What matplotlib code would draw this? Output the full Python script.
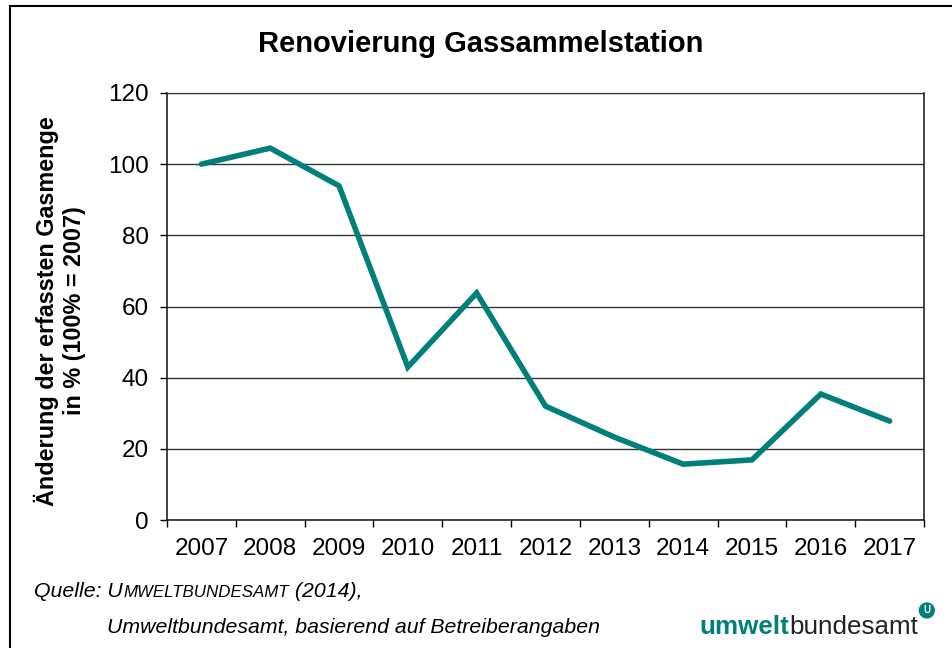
import numpy as np
import matplotlib.pyplot as plt

plt.rcParams['font.family'] = ['Liberation Sans', 'DejaVu Sans']

# data
years = ['2007', '2008', '2009', '2010', '2011', '2012', '2013', '2014', '2015', '2016', '2017']
change_pct = [100, 104.5, 93.9, 43, 63.8, 32, 23.3, 15.7, 16.9, 35.4, 27.8]
y_ticks = [0, 20, 40, 60, 80, 100, 120]

teal = '#007f7b'

fig = plt.figure(figsize=(9.53, 6.48), dpi=100)
ax = fig.add_axes([0.1752, 0.1975, 0.7944, 0.659])

x = np.arange(len(years))
ax.plot(x, change_pct, color=teal, lw=4, solid_joinstyle='miter', solid_capstyle='round')

ax.set_xlim(-0.5, len(years) - 0.5)
ax.set_ylim(0, 120)
ax.set_yticks(y_ticks)
ax.set_xticks(x)
ax.set_xticklabels(years)
ax.set_xticks(np.arange(-0.5, len(years)), minor=True)
ax.tick_params(axis='x', which='major', length=0, pad=13, labelsize=17.5)
ax.tick_params(axis='x', which='minor', length=5, width=1, direction='out')
ax.tick_params(axis='y', length=5, width=1, direction='out', pad=8, labelsize=17.5)

ax.grid(axis='y', color='#333333', lw=1)
ax.set_axisbelow(True)
for s in ['left', 'bottom', 'right']:
    ax.spines[s].set_color('#222222')
    ax.spines[s].set_linewidth(1.2)
ax.spines['top'].set_color('#333333')

ax.set_ylabel('Änderung der erfassten Gasmenge\nin % (100% = 2007)',
              fontsize=16.8, fontweight='bold', labelpad=16, linespacing=1.2)
ax.yaxis.label.set_y(0.49)

fig.text(0.504, 0.932, 'Renovierung Gassammelstation', fontsize=21,
         fontweight='bold', ha='center', va='center')

# outer frame (left and top edges visible)
fig.add_artist(plt.Line2D([0.0105, 0.0105], [0, 0.991], color='black', lw=1.5, transform=fig.transFigure))
fig.add_artist(plt.Line2D([0.0105, 1.0], [0.991, 0.991], color='black', lw=1.5, transform=fig.transFigure))

# source note
y1 = 0.078
t1 = fig.text(0.036, y1, 'Quelle: U', fontsize=15.3, style='italic', va='baseline')
t2 = fig.text(0, 0, 'MWELTBUNDESAMT', fontsize=12.2, style='italic', va='baseline')
t3 = fig.text(0, 0, ' (2014),', fontsize=15.3, style='italic', va='baseline')
fig.canvas.draw()
r = fig.canvas.get_renderer()
bb = t1.get_window_extent(r)
t2.set_position((bb.x1 / fig.bbox.width, y1))
bb = t2.get_window_extent(r)
t3.set_position((bb.x1 / fig.bbox.width, y1))
fig.text(0.112, 0.023, 'Umweltbundesamt, basierend auf Betreiberangaben',
         fontsize=15.3, style='italic', va='baseline')

# logo
l1 = fig.text(0.734, 0.022, 'umwelt', fontsize=18.7, fontweight='bold', color=teal, va='baseline')
fig.canvas.draw()
bb = l1.get_window_extent(r)
l2 = fig.text(bb.x1 / fig.bbox.width, 0.022, 'bundesamt', fontsize=18.7, color='#222222', va='baseline')
fig.canvas.draw()
bb = l2.get_window_extent(r)
fig.text(bb.x1 / fig.bbox.width + 0.009, 0.058, 'U', fontsize=7, fontweight='bold',
         color='white', ha='center', va='center',
         bbox=dict(boxstyle='circle,pad=0.25', fc=teal, ec=teal))

fig.savefig('out.png', dpi=100)
